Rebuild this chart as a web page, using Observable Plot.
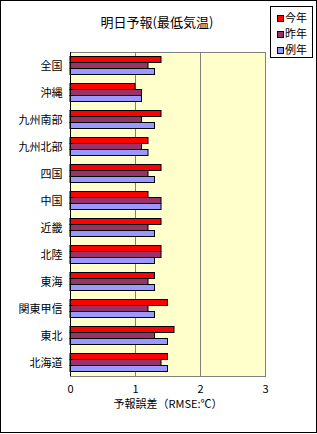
<!DOCTYPE html>
<html><head><meta charset="utf-8">
<script src="https://cdn.jsdelivr.net/npm/d3@7"></script>
<script src="https://cdn.jsdelivr.net/npm/@observablehq/plot@0.6"></script>
<style>
body{margin:0;background:#fff;font-family:"Noto Sans CJK JP","Noto Sans",sans-serif;}
#wrap{position:relative;width:317px;height:434px;overflow:hidden;}
#border{position:absolute;left:0;top:0;width:315px;height:431px;border:1px solid #000;}
#title{position:absolute;left:0;width:314px;top:13px;text-align:center;font-size:13px;line-height:18px;color:#000;}
#chart{position:absolute;left:0;top:40px;}
#xlabel{position:absolute;left:70px;width:196px;top:395px;text-align:center;font-size:11px;line-height:16px;}
#legend{position:absolute;left:270px;top:6px;width:41px;height:50px;border:1px solid #000;background:#fff;font-size:11px;}
#legend .item{position:absolute;left:6px;height:14px;line-height:14px;white-space:nowrap;}
#legend .sw{display:inline-block;width:5px;height:5px;border:1px solid #000;vertical-align:middle;margin-right:1px;position:relative;top:-1px;}
</style></head>
<body><div id="wrap"><div id="border"></div><div id="title"></div><div id="chart"></div><div id="xlabel"></div><div id="legend"></div></div>
<script>
const title = "明日予報(最低気温)";
const xLabel = "予報誤差（RMSE:℃）";
const regions = ["全国","沖縄","九州南部","九州北部","四国","中国","近畿","北陸","東海","関東甲信","東北","北海道"];
const seriesNames = ["今年","昨年","例年"];
const thisYear = [1.4,1.0,1.4,1.2,1.4,1.2,1.4,1.4,1.3,1.5,1.6,1.5];
const lastYear = [1.2,1.1,1.1,1.1,1.2,1.4,1.2,1.4,1.2,1.2,1.3,1.4];
const normalYear = [1.3,1.1,1.3,1.2,1.3,1.4,1.3,1.3,1.3,1.3,1.5,1.5];
const xTicks = [0,1,2,3];
const colors = ["#FF0000","#993366","#9999FF"];

const seriesValues = [thisYear,lastYear,normalYear];
const rows = seriesValues.map(vals => regions.map((r,i)=>({region:r, value:vals[i]})));

document.getElementById("title").textContent = title;
document.getElementById("xlabel").textContent = xLabel;

const insets = [[4.5,16.5],[10.5,10.5],[16.5,4.5]];
const barMarks = rows.map((data,k)=>Plot.barX(data,{
  x:"value", y:"region", fill:colors[k], stroke:"#000", strokeWidth:1,
  insetTop:insets[k][0], insetBottom:insets[k][1]
}));

const chart = Plot.plot({
  width:317, height:376,
  marginTop:12, marginLeft:70, marginRight:52, marginBottom:40,
  style:{fontSize:"11px", fontFamily:'"Noto Sans CJK JP","Noto Sans",sans-serif', background:"transparent", color:"#000"},
  x:{domain:[0,3], ticks:xTicks, tickSize:0, tickPadding:9, label:null, tickFormat:d=>String(d)},
  y:{domain:regions, padding:0, tickSize:0, tickPadding:8, label:null},
  marks:[
    Plot.frame({fill:"#FFFFCC", stroke:"#808080"}),
    Plot.ruleX(xTicks.slice(1,3),{stroke:"#808080", strokeWidth:1}),
    ...barMarks,
    Plot.ruleX([0],{stroke:"#000"}),
    Plot.ruleY([],{})
  ]
});
document.getElementById("chart").appendChild(chart);

const leg = document.getElementById("legend");
seriesNames.forEach((n,k)=>{
  const d = document.createElement("div");
  d.className="item";
  d.style.top = (3 + k*16) + "px";
  const s = document.createElement("span");
  s.className="sw"; s.style.background = colors[k];
  d.appendChild(s);
  d.appendChild(document.createTextNode(n));
  leg.appendChild(d);
});
</script></body></html>
